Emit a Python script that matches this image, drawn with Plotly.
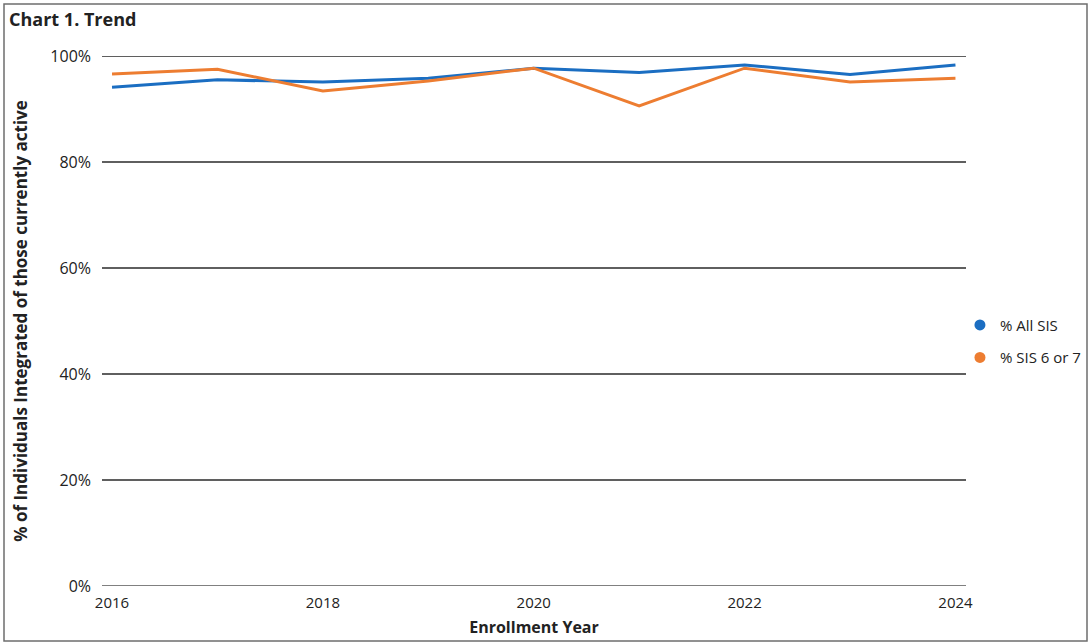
import plotly.graph_objects as go

years = [2016, 2017, 2018, 2019, 2020, 2021, 2022, 2023, 2024]
all_sis = [94.1, 95.5, 95.1, 95.8, 97.7, 96.9, 98.3, 96.5, 98.3]
sis_6_7 = [96.6, 97.5, 93.4, 95.3, 97.7, 90.6, 97.7, 95.1, 95.8]
series_names = ["% All SIS", "% SIS 6 or 7"]
colors = ["#1b6ec2", "#ed7d31"]
y_ticks = [0, 20, 40, 60, 80, 100]
x_ticks = [2016, 2018, 2020, 2022, 2024]

W, H = 1091, 643
ml, mr, mt, mb = 102, 125, 56, 57

fig = go.Figure()
for name, vals, col in zip(series_names, [all_sis, sis_6_7], colors):
    fig.add_trace(go.Scatter(x=years, y=vals, mode="lines", name=name,
                             line=dict(color=col, width=3), showlegend=False))
for name, col in zip(series_names, colors):
    fig.add_trace(go.Scatter(x=[None], y=[None], mode="markers", name=name, legendgroup=name,
                             marker=dict(color=col, size=11, symbol="circle")))

pw = W - ml - mr
ph = H - mt - mb
def px2paper_x(p):
    return (p - ml) / pw
def px2paper_y(p):
    return (H - mb - p) / ph

fig.add_shape(type="rect", xref="paper", yref="paper",
              x0=px2paper_x(4), x1=px2paper_x(1087), y0=px2paper_y(641), y1=px2paper_y(4),
              line=dict(color="#6e6e6e", width=1.5), fillcolor="rgba(0,0,0,0)", layer="below")

# grid lines (including the top 100% line at the edge of the plot area)
for t in y_ticks[1:]:
    fig.add_shape(type="line", xref="paper", yref="y", x0=0, x1=1, y0=t, y1=t,
                  line=dict(color="#2a2a2a", width=1.5), layer="below")
fig.add_shape(type="line", xref="paper", yref="y", x0=0, x1=1, y0=0, y1=0,
              line=dict(color="#808080", width=2), layer="below")

fig.update_layout(
    width=W, height=H,
    margin=dict(l=ml, r=mr, t=mt, b=mb, autoexpand=False),
    paper_bgcolor="white", plot_bgcolor="white",
    font=dict(family="Open Sans, Noto Sans, sans-serif", color="#222222"),
    title=dict(text="<b>Chart 1. Trend</b>", x=9 / W, xanchor="left",
               y=1 - 20 / H, yanchor="middle", font=dict(size=18, color="#222222")),
    xaxis=dict(range=[2015.905, 2024.1], tickmode="array", tickvals=x_ticks,
               ticktext=[str(t) for t in x_ticks], showgrid=False, zeroline=False,
               showline=False, ticks="", tickfont=dict(size=15, color="#222222"),
               ticklabelstandoff=6,
               title=dict(text="<b>Enrollment Year</b>", font=dict(size=16, color="#222222"), standoff=10)),
    yaxis=dict(range=[0, 100], tickmode="array", tickvals=y_ticks,
               ticktext=[f"{t}%" for t in y_ticks], showgrid=False,
               zeroline=False, showline=False, ticks="",
               tickfont=dict(size=16, color="#222222"), ticklabelstandoff=10,
               title=dict(text="<b>% of Individuals Integrated of those currently active</b>",
                          font=dict(size=17, color="#222222"), standoff=18)),
    legend=dict(x=0.993, xanchor="left", y=0.462, yanchor="middle", bgcolor="rgba(0,0,0,0)",
                font=dict(size=15, color="#222222"), itemwidth=30, tracegroupgap=10),
)

fig.write_html("out.html")
